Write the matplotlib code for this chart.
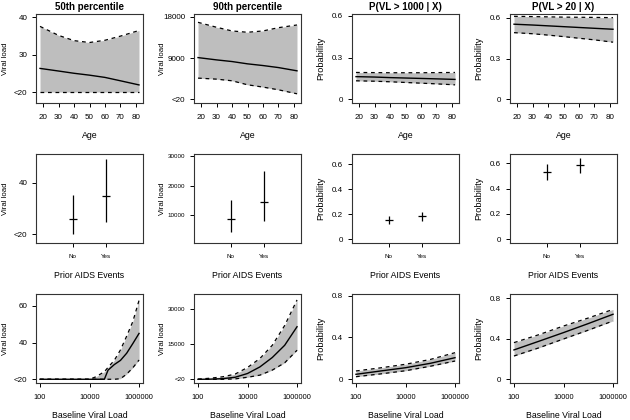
import numpy as np
import matplotlib
matplotlib.use("Agg")
from matplotlib import pyplot as plt

plt.rcParams['font.family'] = ['Liberation Sans', 'DejaVu Sans']

# ---- row 1 : age ----
ages = [18, 30, 40, 50, 60, 70, 82]

p50_age_mid = [26.3, 25.6, 25.0, 24.5, 23.9, 23.0, 21.9]
p50_age_hi = [37.5, 35.1, 33.7, 33.2, 33.8, 34.9, 36.4]
p50_age_lo = [20, 20, 20, 20, 20, 20, 20]

p90_age_mid = [9100, 8600, 8240, 7740, 7370, 6930, 6220]
p90_age_hi = [16780, 15700, 14900, 14610, 14900, 15610, 16200]
p90_age_lo = [4630, 4410, 4050, 3180, 2680, 2090, 1220]

pr1000_age_mid = [0.163, 0.160, 0.156, 0.153, 0.150, 0.147, 0.143]
pr1000_age_hi = [0.193, 0.192, 0.191, 0.191, 0.191, 0.192, 0.193]
pr1000_age_lo = [0.133, 0.130, 0.126, 0.121, 0.116, 0.111, 0.104]

pr20_age_mid = [0.552, 0.546, 0.540, 0.534, 0.528, 0.522, 0.515]
pr20_age_hi = [0.610, 0.608, 0.606, 0.604, 0.603, 0.602, 0.600]
pr20_age_lo = [0.490, 0.482, 0.472, 0.461, 0.449, 0.437, 0.420]

# ---- row 2 : prior AIDS events ----
aids_groups = ['No', 'Yes']
p50_aids_est = [25.8, 34.9]
p50_aids_lo = [20, 24.9]
p50_aids_hi = [35.2, 49.1]

p90_aids_est = [8440, 14580]
p90_aids_lo = [4240, 7870]
p90_aids_hi = [15220, 24900]

pr1000_aids_est = [0.152, 0.184]
pr1000_aids_lo = [0.120, 0.146]
pr1000_aids_hi = [0.184, 0.218]

pr20_aids_est = [0.533, 0.586]
pr20_aids_lo = [0.470, 0.525]
pr20_aids_hi = [0.594, 0.640]

# ---- row 3 : baseline viral load (log10) ----
log_bvl_a = [2, 3, 4, 4.25, 4.5, 4.6, 4.75, 5.0, 5.25, 5.5, 5.75, 6.0]
p50_bvl_mid = [20, 20, 20, 20, 20, 20, 25.0, 28.0, 30.3, 34.2, 39.5, 45.0]
p50_bvl_hi = [20, 20, 20, 21.3, 23.3, 24.1, 26.5, 30.3, 36.0, 43.5, 51.5, 63.0]
p50_bvl_lo = [20, 20, 20, 20, 20, 20, 20, 20, 20.3, 22.8, 26.3, 30.5]

log_bvl_b = [2, 2.5, 3, 3.5, 4, 4.5, 5, 5.5, 6]
p90_bvl_mid = [20, 100, 300, 900, 2500, 5300, 9300, 14500, 22400]
p90_bvl_hi = [100, 500, 1100, 2240, 5060, 8870, 14500, 22900, 33800]
p90_bvl_lo = [20, 20, 20, 200, 900, 1800, 3940, 7040, 12400]

log_bvl_c = [2, 3, 4, 5, 6]
pr1000_bvl_mid = [0.048, 0.080, 0.111, 0.153, 0.207]
pr1000_bvl_hi = [0.080, 0.110, 0.144, 0.190, 0.255]
pr1000_bvl_lo = [0.025, 0.052, 0.082, 0.125, 0.175]

pr20_bvl_mid = [0.290, 0.375, 0.461, 0.550, 0.642]
pr20_bvl_hi = [0.362, 0.440, 0.526, 0.605, 0.690]
pr20_bvl_lo = [0.230, 0.310, 0.398, 0.485, 0.576]

titles = ['50th percentile', '90th percentile', 'P(VL > 1000 | X)', 'P(VL > 20 | X)']
ylabels = ['Viral load', 'Viral load', 'Probability', 'Probability']

W, H = 630, 420
col_left = [36, 194, 352, 510]
row_top = [14, 154, 294]
box_w, box_h = 107, 89.3

TICK_FS = 5.8
LOGTICK_FS = 5.3
SMALL_FS = 4.5
XLAB_FS = 6.3
YLAB_FS = {'Viral load': 5.6, 'Probability': 6.6}
TITLE_FS = 7.0


def make_axes(fig, r, c):
    x0 = col_left[c]
    y0 = row_top[r]
    ax = fig.add_axes([x0 / W, 1 - (y0 + box_h) / H, box_w / W, box_h / H])
    for s in ax.spines.values():
        s.set_color('#333333')
        s.set_linewidth(0.8)
    ax.tick_params(direction='out', length=3, width=0.7, color='black',
                   labelsize=TICK_FS, pad=4.6)
    ax.tick_params(axis='y', pad=3.3)
    ax.minorticks_off()
    return ax


def set_labels(ax, xlabel, ylabel):
    ax.set_xlabel(xlabel, fontsize=XLAB_FS, va='center')
    ax.xaxis.set_label_coords(0.5, -31.7 / box_h)
    ax.set_ylabel(ylabel, fontsize=YLAB_FS[ylabel], va='center')
    ax.yaxis.set_label_coords(-31 / box_w, 0.5)


def band(ax, x, mid, lo, hi):
    ax.fill_between(x, lo, hi, color='#bebebe', lw=0)
    ax.plot(x, hi, color='black', lw=0.9, ls=(0, (3, 3)))
    ax.plot(x, lo, color='black', lw=0.9, ls=(0, (3, 3)))
    ax.plot(x, mid, color='black', lw=1.0)


def cross(ax, est, lo, hi):
    xs = np.arange(1, len(est) + 1)
    ax.vlines(xs, lo, hi, color='black', lw=0.9)
    ax.hlines(est, xs - 0.12, xs + 0.12, color='black', lw=0.9)
    ax.set_xlim(-0.12, 3.12)
    ax.set_xticks(xs)
    ax.set_xticklabels(aids_groups, fontsize=SMALL_FS)


fig = plt.figure(figsize=(W / 100, H / 100), dpi=100)

# row 1
age_sets = [
    (p50_age_mid, p50_age_lo, p50_age_hi, (17.0, 40.8), [20, 30, 40], ['<20', '30', '40']),
    (p90_age_mid, p90_age_lo, p90_age_hi, (-850, 18590), [20, 9000, 18000], ['<20', '9000', '18000']),
    (pr1000_age_mid, pr1000_age_lo, pr1000_age_hi, (-0.029, 0.614), [0, 0.3, 0.6], ['0', '0.3', '0.6']),
    (pr20_age_mid, pr20_age_lo, pr20_age_hi, (-0.029, 0.627), [0, 0.3, 0.6], ['0', '0.3', '0.6']),
]
for c, (mid, lo, hi, ylim, yt, ytl) in enumerate(age_sets):
    ax = make_axes(fig, 0, c)
    band(ax, ages, mid, lo, hi)
    ax.set_xlim(15.4, 84.6)
    ax.set_xticks([20, 30, 40, 50, 60, 70, 80])
    ax.set_ylim(*ylim)
    ax.set_yticks(yt)
    ax.set_yticklabels(ytl)
    set_labels(ax, 'Age', ylabels[c])
    ax.text(0.5, 1 + 7 / box_h, titles[c], transform=ax.transAxes,
            ha='center', va='center', fontsize=TITLE_FS, fontweight='bold')

# row 2
aids_sets = [
    (p50_aids_est, p50_aids_lo, p50_aids_hi, (16.5, 51.1), [20, 40], ['<20', '40'], TICK_FS),
    (p90_aids_est, p90_aids_lo, p90_aids_hi, (305, 30810), [10000, 20000, 30000], ['10000', '20000', '30000'], SMALL_FS),
    (pr1000_aids_est, pr1000_aids_lo, pr1000_aids_hi, (-0.034, 0.68), [0, 0.2, 0.4, 0.6], ['0', '0.2', '0.4', '0.6'], TICK_FS),
    (pr20_aids_est, pr20_aids_lo, pr20_aids_hi, (-0.034, 0.674), [0, 0.2, 0.4, 0.6], ['0', '0.2', '0.4', '0.6'], TICK_FS),
]
for c, (est, lo, hi, ylim, yt, ytl, yfs) in enumerate(aids_sets):
    ax = make_axes(fig, 1, c)
    cross(ax, est, lo, hi)
    ax.set_ylim(*ylim)
    ax.set_yticks(yt)
    ax.set_yticklabels(ytl, fontsize=yfs)
    set_labels(ax, 'Prior AIDS Events', ylabels[c])

# row 3
bvl_sets = [
    (log_bvl_a, p50_bvl_mid, p50_bvl_lo, p50_bvl_hi, (17.8, 66.5), [20, 40, 60], ['<20', '40', '60'], TICK_FS),
    (log_bvl_b, p90_bvl_mid, p90_bvl_lo, p90_bvl_hi, (-1670, 36330), [20, 15000, 30000], ['<20', '15000', '30000'], SMALL_FS),
    (log_bvl_c, pr1000_bvl_mid, pr1000_bvl_lo, pr1000_bvl_hi, (-0.038, 0.816), [0, 0.4, 0.8], ['0', '0.4', '0.8'], TICK_FS),
    (log_bvl_c, pr20_bvl_mid, pr20_bvl_lo, pr20_bvl_hi, (-0.0395, 0.842), [0, 0.4, 0.8], ['0', '0.4', '0.8'], TICK_FS),
]
for c, (lx, mid, lo, hi, ylim, yt, ytl, yfs) in enumerate(bvl_sets):
    ax = make_axes(fig, 2, c)
    band(ax, 10 ** np.array(lx), mid, lo, hi)
    ax.set_xscale('log')
    ax.set_xlim(10 ** 1.84, 10 ** 6.16)
    ax.set_xticks([100, 10000, 1000000])
    ax.set_xticklabels(['100', '10000', '1000000'], fontsize=LOGTICK_FS)
    ax.minorticks_off()
    ax.set_ylim(*ylim)
    ax.set_yticks(yt)
    ax.set_yticklabels(ytl, fontsize=yfs)
    set_labels(ax, 'Baseline Viral Load', ylabels[c])

fig.savefig('out.png', dpi=100)
